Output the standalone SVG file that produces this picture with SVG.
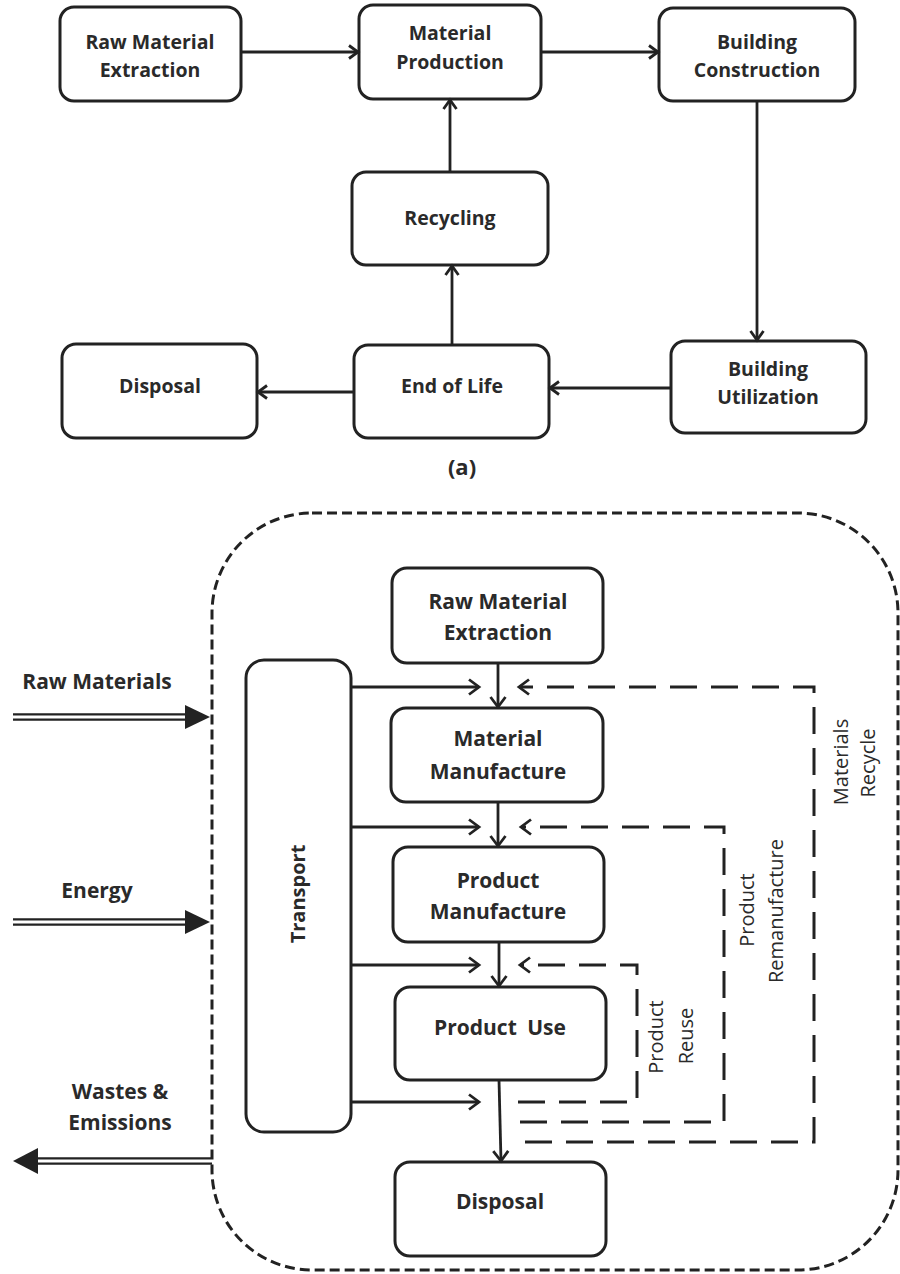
<svg xmlns="http://www.w3.org/2000/svg" width="900" height="1274" viewBox="0 0 900 1274">
<style>
.box{fill:#fff;stroke:#222;stroke-width:3}
.ta{font-family:"Open Sans","Liberation Sans",sans-serif;font-weight:bold;font-size:19.5px;fill:#2a2a2a;text-anchor:middle}
.tb{font-family:"Open Sans","Liberation Sans",sans-serif;font-weight:bold;font-size:21px;fill:#2a2a2a;text-anchor:middle}
.tr{font-family:"Open Sans","Liberation Sans",sans-serif;font-weight:normal;font-size:20px;fill:#2a2a2a;text-anchor:middle}
.ln{fill:none;stroke:#222;stroke-width:2.8}
.dash{fill:none;stroke:#222;stroke-width:3;stroke-dasharray:27 14}
.bound{fill:none;stroke:#222;stroke-width:3;stroke-dasharray:10 5}
.dbl-o{stroke:#222;stroke-width:7.5}
.dbl-i{stroke:#fff;stroke-width:3}
</style>
<defs>
<marker id="ah" markerUnits="userSpaceOnUse" markerWidth="16" markerHeight="20" refX="12" refY="9" orient="auto">
<path d="M2,1.5 L12,9 L2,16.5" fill="none" stroke="#222" stroke-width="2.8" stroke-dasharray="none"/>
</marker>
<marker id="ahs" markerUnits="userSpaceOnUse" markerWidth="14" markerHeight="18" refX="11" refY="8" orient="auto">
<path d="M2,1.5 L11,8 L2,14.5" fill="none" stroke="#222" stroke-width="2.8" stroke-dasharray="none"/>
</marker>
</defs>

<!-- (a) -->
<g id="a_rme"><rect class="box" x="60" y="7" width="181" height="94" rx="14"/><text class="ta" x="150" y="49">Raw Material</text><text class="ta" x="150" y="77">Extraction</text></g>
<g id="a_mp"><rect class="box" x="359" y="5" width="182" height="94" rx="14"/><text class="ta" x="450" y="40">Material</text><text class="ta" x="450" y="69">Production</text></g>
<g id="a_bc"><rect class="box" x="659" y="8" width="196" height="93" rx="14"/><text class="ta" x="757" y="49">Building</text><text class="ta" x="757" y="77">Construction</text></g>
<g id="a_rec"><rect class="box" x="352" y="172" width="196" height="93" rx="14"/><text class="ta" x="450" y="225">Recycling</text></g>
<g id="a_disp"><rect class="box" x="62" y="344" width="195" height="94" rx="14"/><text class="ta" x="160" y="393">Disposal</text></g>
<g id="a_eol"><rect class="box" x="354" y="345" width="195" height="93" rx="14"/><text class="ta" x="452" y="393">End of Life</text></g>
<g id="a_bu"><rect class="box" x="671" y="341" width="195" height="92" rx="14"/><text class="ta" x="768" y="376">Building</text><text class="ta" x="768" y="404">Utilization</text></g>
<text id="label_a" class="ta" style="font-size:22px" x="462" y="475">(a)</text>

<g id="a_connectors">
<line class="ln" x1="241" y1="52" x2="358" y2="52" marker-end="url(#ahs)"/>
<line class="ln" x1="541" y1="52" x2="658" y2="52" marker-end="url(#ahs)"/>
<line class="ln" x1="757" y1="101" x2="757" y2="340" marker-end="url(#ahs)"/>
<line class="ln" x1="671" y1="388" x2="550" y2="388" marker-end="url(#ahs)"/>
<line class="ln" x1="354" y1="392" x2="258" y2="392" marker-end="url(#ahs)"/>
<line class="ln" x1="452" y1="345" x2="452" y2="266" marker-end="url(#ahs)"/>
<line class="ln" x1="450" y1="172" x2="450" y2="100" marker-end="url(#ahs)"/>
</g>

<!-- (b) -->
<rect id="boundary" class="bound" x="212" y="513" width="686" height="757" rx="100"/>

<g id="b_transport"><rect class="box" x="246" y="660" width="105" height="472" rx="18"/><text class="tb" style="font-size:20px" transform="translate(305,894) rotate(-90)">Transport</text></g>
<g id="b_rme"><rect class="box" x="392" y="568" width="211" height="95" rx="15"/><text class="tb" x="498" y="609">Raw Material</text><text class="tb" x="498" y="640">Extraction</text></g>
<g id="b_mm"><rect class="box" x="391" y="708" width="212" height="94" rx="15"/><text class="tb" x="498" y="746">Material</text><text class="tb" x="498" y="779">Manufacture</text></g>
<g id="b_pm"><rect class="box" x="393" y="847" width="211" height="95" rx="15"/><text class="tb" x="498" y="888">Product</text><text class="tb" x="498" y="919">Manufacture</text></g>
<g id="b_pu"><rect class="box" x="395" y="987" width="211" height="93" rx="15"/><text class="tb" x="500" y="1035" word-spacing="5">Product Use</text></g>
<g id="b_disp"><rect class="box" x="395" y="1162" width="211" height="94" rx="15"/><text class="tb" x="500" y="1209">Disposal</text></g>

<g id="b_inputs">
<text class="tb" x="97" y="689">Raw Materials</text>
<text class="tb" x="97" y="898">Energy</text>
<text class="tb" x="120" y="1099">Wastes &amp;</text>
<text class="tb" x="120" y="1130">Emissions</text>
</g>

<g id="b_labels">
<text class="tr" transform="translate(848,762) rotate(-90)">Materials</text>
<text class="tr" transform="translate(875,763) rotate(-90)">Recycle</text>
<text class="tr" transform="translate(754,910) rotate(-90)">Product</text>
<text class="tr" transform="translate(783,911) rotate(-90)">Remanufacture</text>
<text class="tr" transform="translate(663,1037) rotate(-90)">Product</text>
<text class="tr" transform="translate(693,1036) rotate(-90)">Reuse</text>
</g>

<g id="b_connectors">
<line class="dbl-o" x1="13" y1="717" x2="188" y2="717"/><line class="dbl-i" x1="13" y1="717" x2="188" y2="717"/>
<polygon points="185,705 210,717 185,729" fill="#222"/>
<line class="dbl-o" x1="13" y1="922" x2="188" y2="922"/><line class="dbl-i" x1="13" y1="922" x2="188" y2="922"/>
<polygon points="185,910 210,922 185,934" fill="#222"/>
<line class="dbl-o" x1="36" y1="1161" x2="212" y2="1161"/><line class="dbl-i" x1="36" y1="1161" x2="212" y2="1161"/>
<polygon points="38,1148 13,1161 38,1174" fill="#222"/>
<line class="ln" x1="351" y1="687" x2="479" y2="687" marker-end="url(#ah)"/>
<line class="ln" x1="351" y1="827" x2="479" y2="827" marker-end="url(#ah)"/>
<line class="ln" x1="351" y1="965" x2="479" y2="965" marker-end="url(#ah)"/>
<line class="ln" x1="351" y1="1102" x2="479" y2="1102" marker-end="url(#ah)"/>
<line class="ln" x1="498" y1="663" x2="498" y2="707" marker-end="url(#ah)"/>
<line class="ln" x1="498" y1="802" x2="498" y2="846" marker-end="url(#ah)"/>
<line class="ln" x1="499" y1="942" x2="499" y2="986" marker-end="url(#ah)"/>
<line class="ln" x1="499" y1="1080" x2="501" y2="1161" marker-end="url(#ah)"/>
<path class="dash" d="M525,1142 H814 V687 H519" marker-end="url(#ah)"/>
<path class="dash" d="M520,1122 H724 V827 H521" marker-end="url(#ah)"/>
<path class="dash" d="M518,1102 H637 V965 H520" marker-end="url(#ah)"/>
</g>
</svg>
